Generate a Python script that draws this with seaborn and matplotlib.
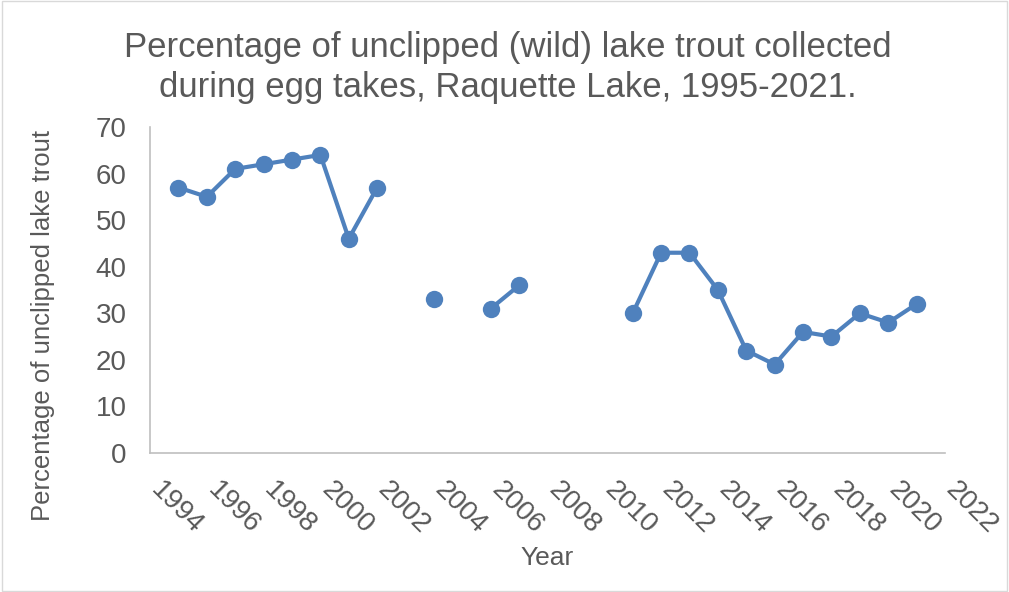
import numpy as np
import pandas as pd
import matplotlib
matplotlib.use("Agg")
import matplotlib.pyplot as plt
import matplotlib.transforms as mtransforms
import seaborn as sns

# Survey years and percent unclipped (gaps = no egg take that year)
years = [1995, 1996, 1997, 1998, 1999, 2000, 2001, 2002, 2003, 2004, 2005,
         2006, 2007, 2008, 2009, 2010, 2011, 2012, 2013, 2014, 2015, 2016,
         2017, 2018, 2019, 2020, 2021]
pct_unclipped = [57, 55, 61, 62, 63, 64, 46, 57, np.nan, 33, np.nan,
                 31, 36, np.nan, np.nan, np.nan, 30, 43, 43, 35, 22, 19,
                 26, 25, 30, 28, 32]
x_ticks = list(range(1994, 2023, 2))
y_ticks = list(range(0, 71, 10))

df = pd.DataFrame({"Year": years, "Pct": pct_unclipped})
# split into runs so missing years break the line
df["segment"] = df["Pct"].isna().cumsum()
df = df.dropna()

sns.set_style("white")
plt.rcParams["font.family"] = ["Liberation Sans", "DejaVu Sans"]
text_color = "#595959"
line_color = "#4f81bd"

fig = plt.figure(figsize=(10.09, 5.92), dpi=100)
ax = fig.add_axes([0.1487, 0.2348, 0.7879, 0.5507])

sns.lineplot(data=df, x="Year", y="Pct", units="segment", estimator=None,
             color=line_color, linewidth=3, marker="o", markersize=12.5,
             markeredgewidth=0, ax=ax)

ax.set_xlim(1994, 2022)
ax.set_ylim(0, 70)
ax.set_xticks(x_ticks)
ax.set_yticks(y_ticks)
ax.set_xticklabels([str(t) for t in x_ticks], rotation=-45, ha="left",
                   rotation_mode="anchor", fontsize=20, color=text_color)
ax.set_yticklabels([str(t) for t in y_ticks], fontsize=20, color=text_color)
ax.tick_params(axis="x", length=0, pad=17)
ax.tick_params(axis="y", length=0, pad=17)

# nudge the slanted year labels right, like the original
shift = mtransforms.ScaledTranslation(10 / 72, 0, fig.dpi_scale_trans)
for lbl in ax.get_xticklabels():
    lbl.set_transform(lbl.get_transform() + shift)

for side in ["top", "right"]:
    ax.spines[side].set_visible(False)
for side in ["left", "bottom"]:
    ax.spines[side].set_color("#bfbfbf")
    ax.spines[side].set_linewidth(1.2)

ax.set_xlabel("Year", fontsize=19, color=text_color)
ax.set_ylabel("Percentage of unclipped lake trout", fontsize=18.5, color=text_color)
ax.xaxis.set_label_coords(0.5, -0.285)
ax.yaxis.set_label_coords(-0.12, 0.39)

fig.suptitle("Percentage of unclipped (wild) lake trout collected\nduring egg takes, Raquette Lake, 1995-2021.",
             fontsize=25, color=text_color, y=0.947, x=0.503, va="top", linespacing=1.25)

fig.patches.append(plt.Rectangle((0.002, 0.002), 0.996, 0.996, transform=fig.transFigure,
                                 fill=False, edgecolor="#d9d9d9", linewidth=1))

fig.savefig("out.png", dpi=100)
